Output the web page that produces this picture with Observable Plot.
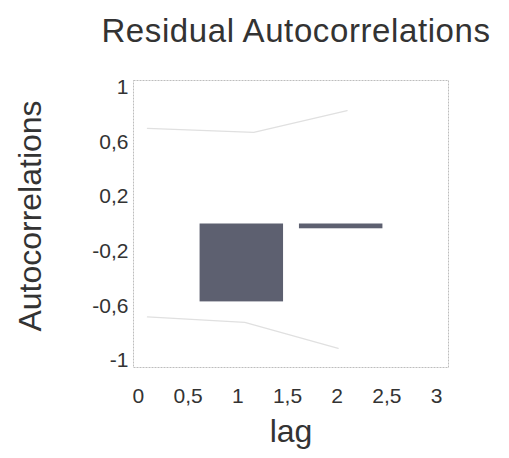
<!DOCTYPE html>
<html>
<head>
<meta charset="utf-8">
<script src="https://cdn.jsdelivr.net/npm/d3@7"></script>
<script src="https://cdn.jsdelivr.net/npm/@observablehq/plot@0.6"></script>
<style>
  html, body { margin: 0; padding: 0; background: #fff; }
  body { width: 509px; height: 458px; overflow: hidden; position: relative; font-family: "Liberation Sans", Arial, sans-serif; }
  #titlebox { height: 70px; position: relative; }
  #title { position: absolute; top: 14px; left: 296px; transform: translateX(-50%); white-space: nowrap; font-size: 33px; line-height: 1; letter-spacing: 0.6px; color: #333; }
  svg { overflow: visible; }
</style>
</head>
<body>
<div id="titlebox"><div id="title">Residual Autocorrelations</div></div>
<div id="chart"></div>
<script>
const lags = [1, 2];
const acf = [-0.57, -0.035];
const upperLag = [0.09, 1.16, 2.10];
const upperVal = [0.70, 0.67, 0.83];
const lowerLag = [0.09, 1.07, 2.01];
const lowerVal = [-0.68, -0.72, -0.91];
const xTicks = [0, 0.5, 1, 1.5, 2, 2.5, 3];
const yTicks = [1, 0.6, 0.2, -0.2, -0.6, -1];

const bars = lags.map((l, i) => ({lag: l, acf: acf[i]}));
const upper = upperLag.map((l, i) => ({lag: l, v: upperVal[i]}));
const lower = lowerLag.map((l, i) => ({lag: l, v: lowerVal[i]}));
const fmt = d => String(d).replace(".", ",");

const chart = Plot.plot({
  width: 509,
  height: 388,
  marginLeft: 133,
  marginRight: 61,
  marginTop: 10,
  marginBottom: 91,
  style: {fontFamily: "Liberation Sans, Arial, sans-serif", color: "#333", background: "#fff", overflow: "visible"},
  x: {domain: [-0.05, 3.12], label: null},
  y: {domain: [-1.05, 1.05], label: null},
  marks: [
    Plot.frame({stroke: "#bdbdbd", strokeDasharray: "2,1"}),
    Plot.line(upper, {x: "lag", y: "v", stroke: "#e0e0e0", strokeWidth: 1.2}),
    Plot.line(lower, {x: "lag", y: "v", stroke: "#e0e0e0", strokeWidth: 1.2}),
    Plot.rectY(bars, {x1: d => d.lag - 0.38, x2: d => d.lag + 0.46, y1: 0, y2: "acf", fill: "#5d6070"}),
    Plot.axisX({ticks: xTicks, tickFormat: fmt, tickSize: 0, tickPadding: 21, label: null, fontSize: 21, fill: "#333"}),
    Plot.axisY({ticks: yTicks, tickFormat: fmt, tickSize: 0, tickPadding: 5, label: null, fontSize: 21, fill: "#333"}),
    Plot.text(["lag"], {frameAnchor: "bottom", dy: 74, fontSize: 32, fill: "#333"}),
    Plot.text(["Autocorrelations"], {frameAnchor: "left", textAnchor: "middle", lineAnchor: "middle", dx: -103, dy: -8, rotate: -90, fontSize: 32, fill: "#333"})
  ]
});
document.getElementById("chart").appendChild(chart);
</script>
</body>
</html>
